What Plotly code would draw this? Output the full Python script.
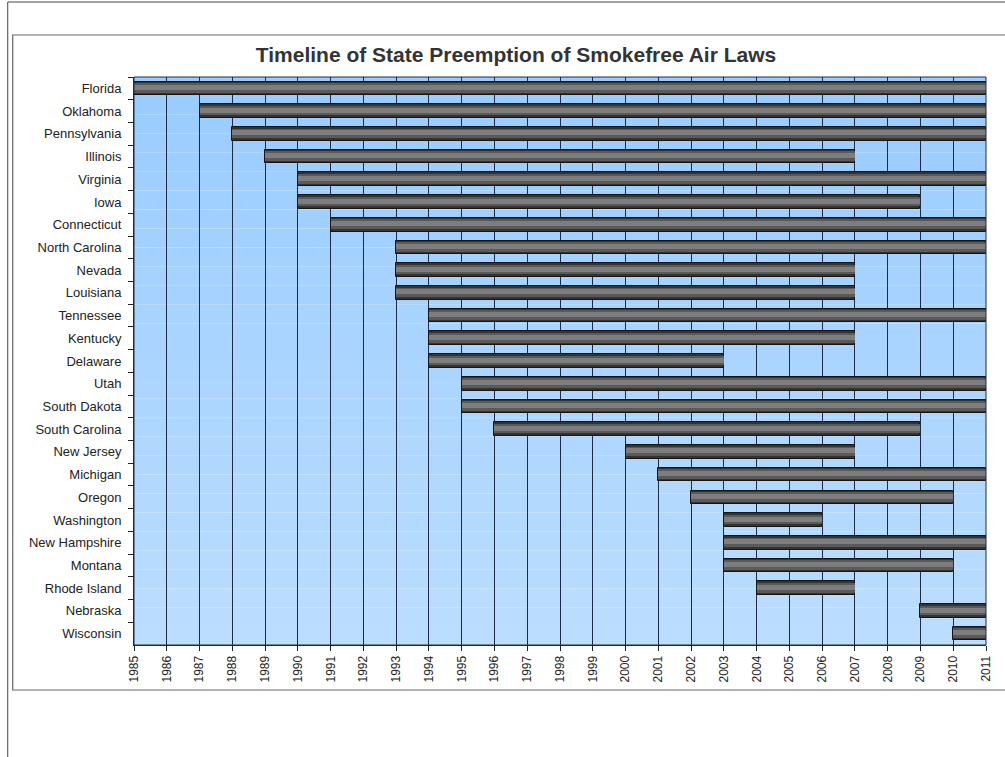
import plotly.graph_objects as go

states = ["Florida", "Oklahoma", "Pennsylvania", "Illinois", "Virginia", "Iowa",
          "Connecticut", "North Carolina", "Nevada", "Louisiana", "Tennessee",
          "Kentucky", "Delaware", "Utah", "South Dakota", "South Carolina",
          "New Jersey", "Michigan", "Oregon", "Washington", "New Hampshire",
          "Montana", "Rhode Island", "Nebraska", "Wisconsin"]
start_year = [1985, 1987, 1988, 1989, 1990, 1990, 1991, 1993, 1993, 1993, 1994,
              1994, 1994, 1995, 1995, 1996, 2000, 2001, 2002, 2003, 2003, 2003,
              2004, 2009, 2010]
end_year = [2011, 2011, 2011, 2007, 2011, 2009, 2011, 2011, 2007, 2007, 2011,
            2007, 2003, 2011, 2011, 2009, 2007, 2011, 2010, 2006, 2011, 2010,
            2007, 2011, 2011]
years = list(range(1985, 2012))

W, H = 1005, 757
L, R, T, B = 134, 991, 77, 645

def px(x):
    return (x - L) / (R - L)

def py(y):
    return (B - y) / (B - T)

durations = [e - s for s, e in zip(start_year, end_year)]

fig = go.Figure()
fig.add_trace(go.Bar(
    y=states, x=durations, base=start_year, orientation="h",
    width=0.6, marker=dict(color="#333333", line=dict(color="#151515", width=1)),
    hoverinfo="skip", showlegend=False))
fig.add_trace(go.Bar(
    y=states, x=durations, base=start_year, orientation="h",
    width=0.42, marker=dict(color="#5a5a5a", line=dict(width=0)),
    hoverinfo="skip", showlegend=False, offset=-0.23))
fig.add_trace(go.Bar(
    y=states, x=durations, base=start_year, orientation="h",
    width=0.22, marker=dict(color="#7e7e7e", line=dict(width=0)),
    hoverinfo="skip", showlegend=False, offset=-0.15))

shapes = []
n = 30
top_c = (0x99, 0xCC, 0xFF)
bot_c = (0xBB, 0xDD, 0xFF)
for i in range(n):
    f = i / (n - 1)
    c = tuple(round(top_c[k] + (bot_c[k] - top_c[k]) * f) for k in range(3))
    shapes.append(dict(type="rect", xref="paper", yref="paper",
                       x0=0, x1=1, y0=1 - (i + 1) / n, y1=1 - i / n,
                       fillcolor="rgb(%d,%d,%d)" % c, line=dict(width=0),
                       layer="below"))
shapes.append(dict(type="rect", xref="paper", yref="paper",
                   x0=px(12), x1=px(1030), y0=py(690), y1=py(35),
                   line=dict(color="#666666", width=1.2), layer="below"))
shapes.append(dict(type="line", xref="paper", yref="paper",
                   x0=px(7), x1=px(1030), y0=py(2), y1=py(2),
                   line=dict(color="#444444", width=1)))
shapes.append(dict(type="line", xref="paper", yref="paper",
                   x0=px(7), x1=px(7), y0=py(2), y1=py(790),
                   line=dict(color="#444444", width=1)))
shapes.append(dict(type="rect", xref="paper", yref="paper",
                   x0=0, x1=1, y0=0, y1=1,
                   line=dict(color="#1f2a44", width=1)))

fig.update_layout(
    width=W, height=H,
    margin=dict(l=L, r=W - R, t=T, b=H - B, pad=0),
    paper_bgcolor="white", plot_bgcolor="rgba(0,0,0,0)",
    barmode="overlay", bargap=0,
    title=dict(text="<b>Timeline of State Preemption of Smokefree Air Laws</b>",
               x=516 / W, xanchor="center", y=1 - 55 / H, yanchor="middle",
               font=dict(family="Liberation Sans, Arial", size=21, color="#333333")),
    shapes=shapes,
    xaxis=dict(range=[1985, 2011], tickmode="array", tickvals=years,
               ticktext=[str(y) for y in years], tickangle=-90,
               showgrid=True, gridcolor="#1f2a44", gridwidth=1,
               ticks="outside", ticklen=5, tickcolor="#222222",
               tickfont=dict(family="Liberation Sans, Arial", size=12, color="#222222"),
               showline=True, linecolor="#1f2a44", zeroline=False, fixedrange=True),
    yaxis=dict(type="category", categoryorder="array", categoryarray=states,
               autorange="reversed", tickson="boundaries",
               ticks="outside", ticklen=5, tickcolor="#222222",
               showgrid=False, showline=True, linecolor="#1f2a44",
               tickfont=dict(family="Liberation Sans, Arial", size=13, color="#222222"),
               ticklabelstandoff=9, fixedrange=True),
)

fig.write_html("out.html", config={"displayModeBar": False},
               post_script="document.body.style.margin='0';document.body.style.overflow='hidden';")
